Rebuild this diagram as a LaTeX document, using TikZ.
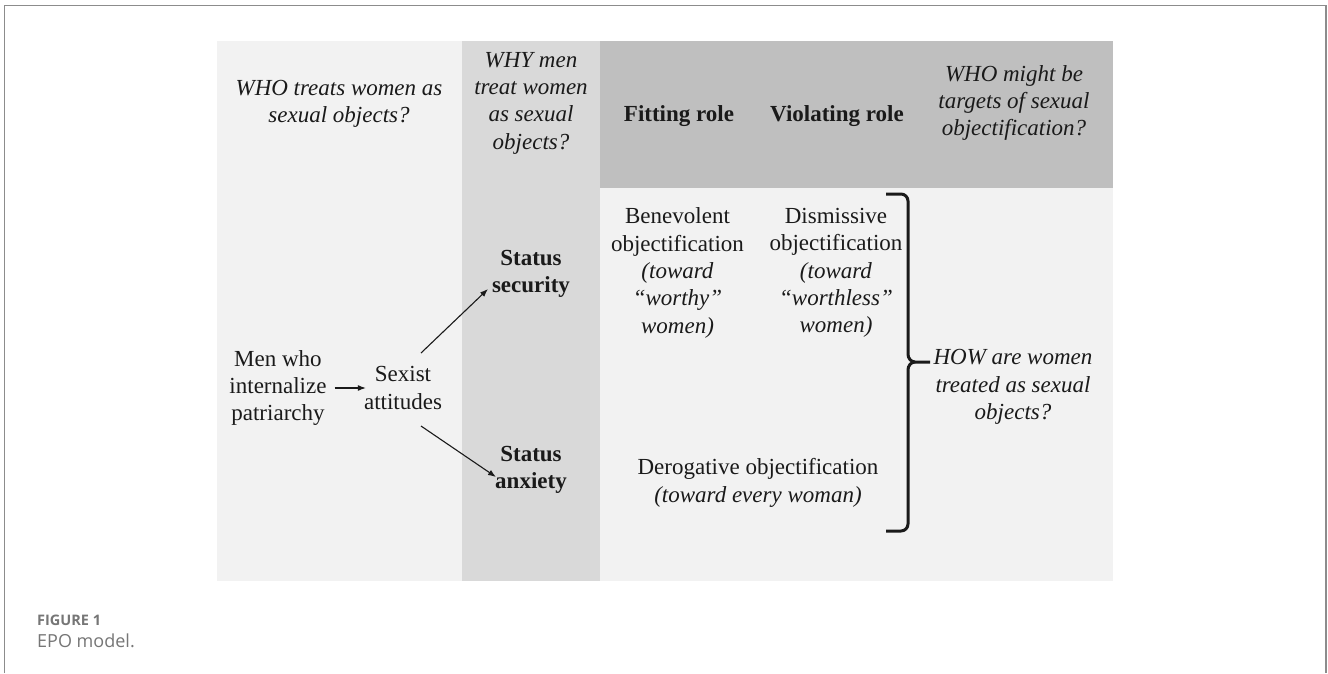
\documentclass[tikz,border=0pt]{standalone}
\usepackage{fontspec}
\setmainfont{Liberation Serif}[ItalicFont={Liberation Serif Italic}, BoldFont={Liberation Serif Bold}, BoldItalicFont={Liberation Serif Bold Italic}]
\newfontfamily\capfont{Open Sans}
\usetikzlibrary{arrows.meta}
\definecolor{panelL}{HTML}{F2F2F2}
\definecolor{panelM}{HTML}{D9D9D9}
\definecolor{panelH}{HTML}{BFBFBF}
\definecolor{framegray}{HTML}{8C8C8C}
\definecolor{capgray}{HTML}{767676}
\definecolor{ink}{HTML}{1A1A1A}
\begin{document}
\begin{tikzpicture}[x=1pt,y=-1pt,
  txt/.style={align=center, inner sep=0pt, text=ink, font=\fontsize{23}{27.3}\selectfont},
  itx/.style={txt, font=\fontsize{23}{27.3}\selectfont\itshape},
  bfx/.style={txt, font=\fontsize{23}{27.3}\selectfont\bfseries},
  arr/.style={draw=ink, -{Latex[length=8pt,width=6pt]}, line width=1.1pt},
  bracestyle/.style={draw=ink, line width=3pt, line cap=butt, line join=round},
  caplab/.style={anchor=base west, inner sep=0pt, text=capgray, font=\capfont\fontsize{14.5}{16}\selectfont\bfseries},
  captext/.style={anchor=base west, inner sep=0pt, text=capgray, font=\capfont\fontsize{18}{20}\selectfont},
]
\useasboundingbox (0,0) rectangle (1328,673);
\fill[white] (0,0) rectangle (1328,673);
\draw[framegray, line width=1.5pt] (4.5,673) -- (4.5,5.5) -- (1326,5.5) -- (1326,673);

% panels
\fill[panelL] (217,41) rectangle (462,581);
\fill[panelM] (462,41) rectangle (600,581);
\fill[panelH] (600,41) rectangle (1113,188);
\fill[panelL] (600,188) rectangle (1113,581);

% header texts
\node[itx] (who) at (339,104) {WHO treats women as\\sexual objects?};
\node[itx] (why) at (531,103) {WHY men\\treat women\\as sexual\\objects?};
\node[bfx] (fit) at (679,116) {Fitting role};
\node[bfx] (viol) at (837,116) {Violating role};
\node[itx] (whom) at (1014,103) {WHO might be\\targets of sexual\\objectification?};

% body texts
\node[txt] (benev) at (677.5,273) {Benevolent\\objectification\\\textit{(toward}\\\textit{“worthy”}\\\textit{women)}};
\node[txt] (dism) at (836,273) {Dismissive\\objectification\\\textit{(toward}\\\textit{“worthless”}\\\textit{women)}};
\node[bfx] (secur) at (531,274) {Status\\security};
\node[txt] (men) at (278,388) {Men who\\internalize\\patriarchy};
\node[txt] (sexist) at (403,388) {Sexist\\attitudes};
\node[bfx] (anx) at (531,470) {Status\\anxiety};
\node[txt] (derog) at (758,483) {Derogative objectification\\\textit{(toward every woman)}};
\node[itx] (how) at (1013,387) {HOW are women\\treated as sexual\\objects?};

% arrows
\draw[arr] ([xshift=8pt]men.east) -- ([xshift=2pt]sexist.west);
\draw[arr] ([shift={(18,-35)}]sexist.center) -- ([shift={(-43,15)}]secur.center);
\draw[arr] ([shift={(18,38)}]sexist.center) -- ([shift={(-35,7)}]anx.center);

% brace
\coordinate (btop) at (886,194);
\coordinate (bbot) at (886,531);
\coordinate (btip) at (930,362);
\draw[bracestyle] (btop) -- (901,194) to[out=0,in=90] (908,201) -- (908,354) to[out=-90,in=180] (915,362) -- (btip);
\draw[bracestyle] (bbot) -- (901,531) to[out=0,in=-90] (908,524) -- (908,370) to[out=90,in=180] (915,362);

% caption
\node[caplab] (figlab) at (37,625) {FIGURE 1};
\node[captext] (figcap) at (37,647) {EPO model.};
\end{tikzpicture}
\end{document}
